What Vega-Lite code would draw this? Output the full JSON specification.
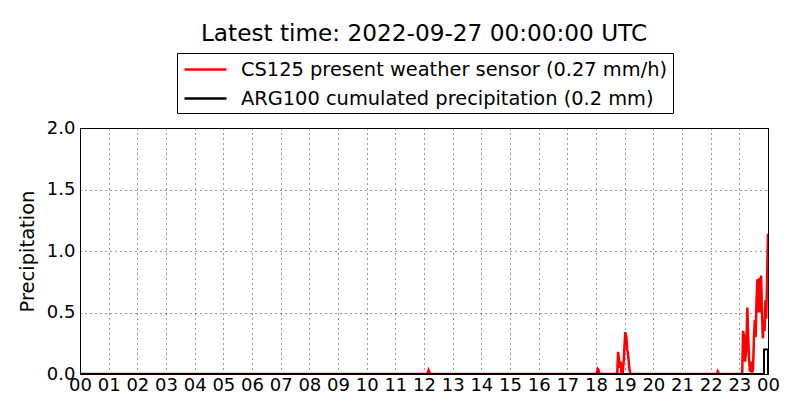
{
  "$schema": "https://vega.github.io/schema/vega-lite/v6.json",
  "width": 688,
  "height": 246,
  "autosize": {"type": "none"},
  "padding": {"left": 80, "top": 128, "right": 32, "bottom": 46},
  "background": "white",
  "config": {
    "font": "DejaVu Sans",
    "view": {"stroke": "black", "strokeWidth": 1},
    "axis": {
      "labelFont": "DejaVu Sans",
      "labelFontSize": 18,
      "labelColor": "black",
      "titleFont": "DejaVu Sans",
      "titleFontSize": 19.5,
      "titleFontWeight": "normal",
      "titleColor": "black",
      "domain": false,
      "ticks": false,
      "grid": true,
      "gridColor": "black",
      "gridDash": [1, 4],
      "gridWidth": 1,
      "gridOpacity": 0.8,
      "labelOverlap": false
    }
  },
  "title": {
    "text": "Latest time: 2022-09-27 00:00:00 UTC",
    "fontSize": 23.2,
    "font": "DejaVu Sans",
    "fontWeight": "normal",
    "color": "black",
    "anchor": "middle",
    "frame": "group",
    "offset": 6
  },
  "datasets": {
    "cs": [
      {"t": 0, "v": 0},
      {"t": 12.12, "v": 0}, {"t": 12.16, "v": 0.03}, {"t": 12.2, "v": 0.01}, {"t": 12.24, "v": 0},
      {"t": 18.03, "v": 0}, {"t": 18.06, "v": 0.04}, {"t": 18.09, "v": 0.03}, {"t": 18.12, "v": 0},
      {"t": 18.74, "v": 0}, {"t": 18.77, "v": 0.18}, {"t": 18.8, "v": 0.12}, {"t": 18.83, "v": 0.05},
      {"t": 18.86, "v": 0.1}, {"t": 18.89, "v": 0}, {"t": 18.93, "v": 0}, {"t": 18.97, "v": 0.12},
      {"t": 19.02, "v": 0.34}, {"t": 19.06, "v": 0.3}, {"t": 19.09, "v": 0.2}, {"t": 19.12, "v": 0.16},
      {"t": 19.16, "v": 0.05}, {"t": 19.2, "v": 0},
      {"t": 22.22, "v": 0}, {"t": 22.25, "v": 0.02}, {"t": 22.29, "v": 0},
      {"t": 23.1, "v": 0}, {"t": 23.13, "v": 0.35}, {"t": 23.17, "v": 0.3}, {"t": 23.2, "v": 0.1},
      {"t": 23.24, "v": 0.2}, {"t": 23.28, "v": 0.54}, {"t": 23.31, "v": 0.3}, {"t": 23.34, "v": 0.12},
      {"t": 23.37, "v": 0.02}, {"t": 23.4, "v": 0.1}, {"t": 23.44, "v": 0}, {"t": 23.48, "v": 0.05},
      {"t": 23.51, "v": 0.3}, {"t": 23.54, "v": 0.44}, {"t": 23.57, "v": 0.3}, {"t": 23.6, "v": 0.6},
      {"t": 23.63, "v": 0.77}, {"t": 23.66, "v": 0.5}, {"t": 23.69, "v": 0.78}, {"t": 23.72, "v": 0.5},
      {"t": 23.76, "v": 0.8}, {"t": 23.79, "v": 0.5}, {"t": 23.82, "v": 0.29}, {"t": 23.85, "v": 0.42},
      {"t": 23.88, "v": 0.35}, {"t": 23.91, "v": 0.6}, {"t": 23.94, "v": 0.45}, {"t": 23.97, "v": 0.8},
      {"t": 24.0, "v": 1.14}
    ],
    "arg": [
      {"i": 1, "t": 0, "v": 0},
      {"i": 2, "t": 23.86, "v": 0},
      {"i": 3, "t": 23.86, "v": 0.2},
      {"i": 4, "t": 24.0, "v": 0.2},
      {"i": 5, "t": 24.0, "v": 0}
    ]
  },
  "encoding": {
    "x": {
      "field": "t",
      "type": "quantitative",
      "scale": {"domain": [0, 24], "nice": false, "zero": false},
      "axis": {
        "title": null,
        "values": [0,1,2,3,4,5,6,7,8,9,10,11,12,13,14,15,16,17,18,19,20,21,22,23,24],
        "labelExpr": "(datum.value % 24) < 10 ? '0' + (datum.value % 24) : '' + datum.value",
        "labelPadding": 2,
        "labelFlush": false
      }
    },
    "y": {
      "field": "v",
      "type": "quantitative",
      "scale": {"domain": [0, 2], "nice": false},
      "axis": {
        "title": "Precipitation",
        "values": [0, 0.5, 1, 1.5, 2],
        "format": ".1f",
        "labelPadding": 5,
        "titlePadding": 9,
        "labelFlush": false
      }
    }
  },
  "layer": [
    {
      "data": {"name": "cs"},
      "mark": {"type": "line", "strokeWidth": 2.5, "clip": true},
      "encoding": {
        "color": {
          "datum": "CS125 present weather sensor (0.27 mm/h)",
          "type": "nominal",
          "scale": {
            "domain": ["CS125 present weather sensor (0.27 mm/h)", "ARG100 cumulated precipitation (0.2 mm)"],
            "range": ["#ff0000", "#000000"]
          },
          "legend": {
            "orient": "none",
            "legendX": 97,
            "legendY": -75,
            "title": null,
            "strokeColor": "black",
            "fillColor": "white",
            "padding": 5,
            "cornerRadius": 0,
            "symbolType": "M-0.9,0H3.3",
            "symbolSize": 400,
            "symbolStrokeWidth": 2.5,
            "labelOffset": 36,
            "labelFont": "DejaVu Sans",
            "labelFontSize": 19.4,
            "labelColor": "black",
            "labelLimit": 0,
            "rowPadding": 8
          }
        }
      }
    },
    {
      "data": {"name": "arg"},
      "mark": {"type": "line", "strokeWidth": 2, "clip": false},
      "encoding": {
        "color": {"datum": "ARG100 cumulated precipitation (0.2 mm)", "type": "nominal"},
        "order": {"field": "i", "type": "quantitative"}
      }
    }
  ]
}
